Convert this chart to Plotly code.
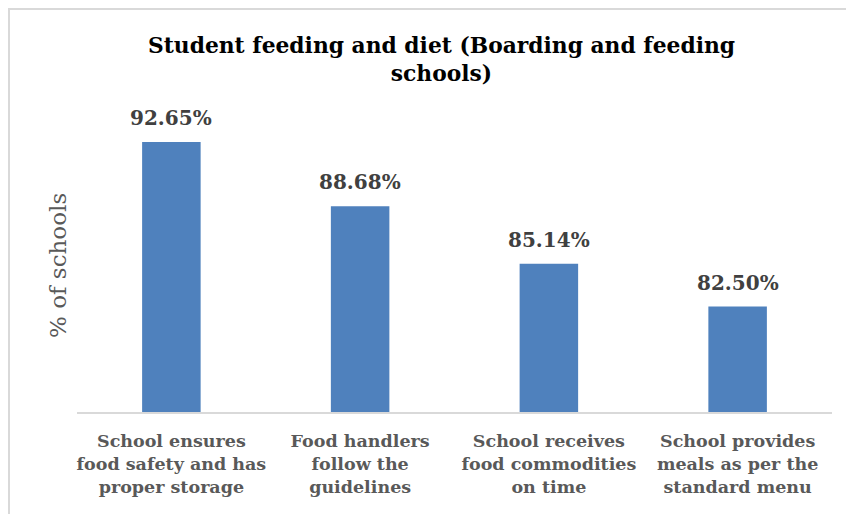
import plotly.graph_objects as go

categories = [
    "School ensures<br>food safety and has<br>proper storage",
    "Food handlers<br>follow the<br>guidelines",
    "School receives<br>food commodities<br>on time",
    "School provides<br>meals as per the<br>standard menu",
]
values = [92.65, 88.68, 85.14, 82.50]
value_labels = ["92.65%", "88.68%", "85.14%", "82.50%"]

title_text = "Student feeding and diet (Boarding and feeding<br>schools)"
y_title = "% of schools"

FONT = "DejaVu Serif"
W, H = 854, 514
# page body adds an 8px offset; margins are set in figure coordinates
ML, MR, MT, MB = 69, 30, 112, 110
PW, PH = W - ML - MR, H - MT - MB

fig = go.Figure()
fig.add_trace(go.Bar(
    x=categories,
    y=values,
    marker=dict(color="#4F81BD", line=dict(width=0)),
    width=0.31,
    hoverinfo="skip",
))

for c, v, t in zip(categories, values, value_labels):
    fig.add_annotation(
        x=c, y=v, text="<b>" + t + "</b>", showarrow=False,
        yanchor="bottom", yshift=10,
        font=dict(family=FONT, size=20, color="#404040"),
    )

# y axis title
fig.add_annotation(
    xref="paper", yref="paper", x=(50 - ML) / PW, y=0.5,
    xanchor="center", yanchor="middle", textangle=-90, showarrow=False,
    text=y_title, font=dict(family=FONT, size=23, color="#595959"),
)

fig.update_layout(
    width=W, height=H,
    margin=dict(l=ML, r=MR, t=MT, b=MB, autoexpand=False),
    paper_bgcolor="white", plot_bgcolor="white",
    showlegend=False,
    title=dict(
        text="<b>" + title_text + "</b>",
        x=(433.5 - ML) / PW, xref="paper", xanchor="center",
        y=1 - 45 / H, yanchor="top",
        font=dict(family=FONT, size=21.8, color="#000000"),
    ),
    xaxis=dict(
        showgrid=False, zeroline=False, showline=True, automargin=False,
        linecolor="#D9D9D9", linewidth=2,
        tickfont=dict(family=FONT, size=17.5, color="#595959", weight="bold"),
        ticks="", ticklabelstandoff=12,
    ),
    yaxis=dict(
        range=[76, 94], showgrid=False, zeroline=False, showline=False,
        showticklabels=False, ticks="", automargin=False,
    ),
)

# chart border (top and left edges visible)
fig.add_shape(type="rect", xref="paper", yref="paper",
              x0=(1 - ML) / PW, x1=1.3, y0=-0.6, y1=(H - 1 - MB) / PH,
              line=dict(color="#D9D9D9", width=2), fillcolor="rgba(0,0,0,0)", layer="below")

fig.write_html("out.html")
